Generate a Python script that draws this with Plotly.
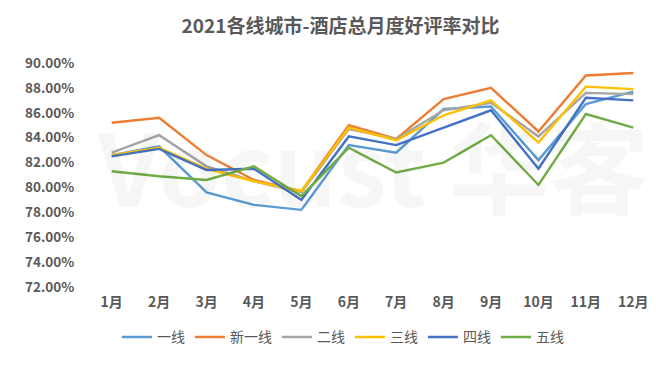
import plotly.graph_objects as go

months = ["1月", "2月", "3月", "4月", "5月", "6月", "7月", "8月", "9月", "10月", "11月", "12月"]
tier1 = [82.6, 83.3, 79.6, 78.6, 78.2, 83.4, 82.8, 86.3, 86.5, 82.2, 86.7, 87.7]
new_tier1 = [85.2, 85.6, 82.6, 80.6, 79.7, 85.0, 83.9, 87.1, 88.0, 84.5, 89.0, 89.2]
tier2 = [82.8, 84.2, 81.7, 80.5, 79.6, 84.7, 83.9, 86.2, 86.8, 84.1, 87.6, 87.5]
tier3 = [82.6, 83.2, 81.5, 80.5, 79.7, 84.8, 83.8, 85.8, 87.0, 83.6, 88.1, 87.9]
tier4 = [82.5, 83.1, 81.4, 81.5, 79.0, 84.1, 83.4, 84.8, 86.2, 81.5, 87.2, 87.0]
tier5 = [81.3, 80.9, 80.6, 81.7, 79.3, 83.2, 81.2, 82.0, 84.2, 80.2, 85.9, 84.8]

series_names = ["一线", "新一线", "二线", "三线", "四线", "五线"]
series_values = [tier1, new_tier1, tier2, tier3, tier4, tier5]
colors = ["#5B9BD5", "#ED7D31", "#A5A5A5", "#FFC000", "#4472C4", "#70AD47"]
y_ticks = [72, 74, 76, 78, 80, 82, 84, 86, 88, 90]

FONT = "Noto Sans CJK SC"
fig = go.Figure()
for name, vals, c in zip(series_names, series_values, colors):
    fig.add_trace(go.Scatter(x=months, y=vals, name=name, mode="lines",
                             line=dict(color=c, width=2.4)))

fig.add_annotation(text="Vocust 华客", xref="paper", yref="paper", x=0.5, y=0.55,
                   showarrow=False, font=dict(family=FONT, size=100, color="rgba(0,0,0,0.035)", weight="bold"))

fig.update_layout(
    width=669, height=365,
    margin=dict(l=80, r=20, t=55, b=86, autoexpand=False),
    paper_bgcolor="white", plot_bgcolor="white",
    title=dict(text="2021各线城市-酒店总月度好评率对比", x=0.497, xref="container", xanchor="center",
               y=0.95, yref="container", yanchor="middle",
               font=dict(family=FONT, size=19, color="#595959", weight="bold")),
    font=dict(family=FONT, color="#595959"),
    showlegend=True,
    legend=dict(orientation="h", x=0.448, xref="paper", xanchor="center", y=-0.225, yanchor="middle",
                font=dict(family=FONT, size=14, color="#595959"), itemwidth=30, tracegroupgap=0),
    xaxis=dict(range=[-0.5, 11.5], showgrid=False, showline=False, zeroline=False,
               ticks="outside", ticklen=2, tickcolor="rgba(0,0,0,0)", tickangle=0,
               tickfont=dict(family=FONT, size=14, color="#595959", weight="bold")),
    yaxis=dict(range=[72, 90], tickvals=y_ticks, ticktext=[f"{v:.2f}%" for v in y_ticks],
               showgrid=False, showline=False, zeroline=False,
               ticks="outside", ticklen=10, tickcolor="rgba(0,0,0,0)",
               tickfont=dict(family=FONT, size=13.5, color="#595959", weight="bold")),
)
fig.write_html("out.html")
